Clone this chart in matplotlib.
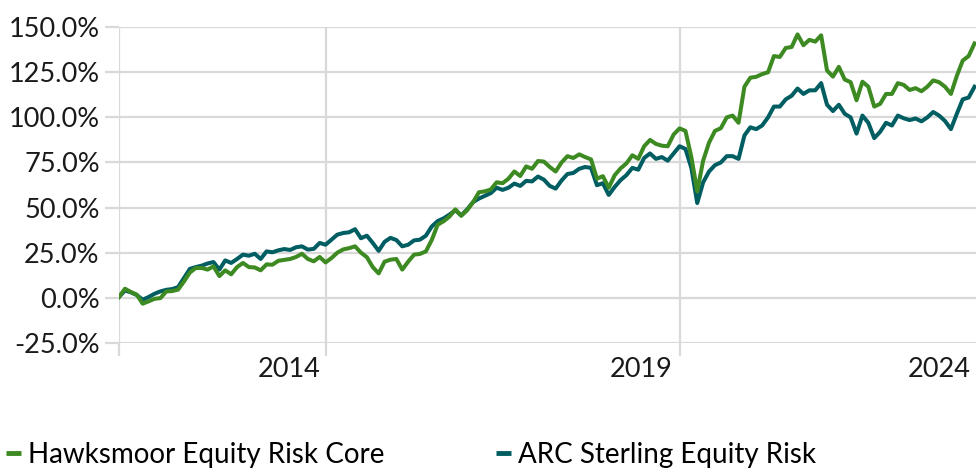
import matplotlib.pyplot as plt
from matplotlib.lines import Line2D
from matplotlib.ticker import FuncFormatter

plt.rcParams['font.family'] = ['Lato', 'DejaVu Sans']

# cumulative return (%), one value per month
hawksmoor = [
    0.5, 5, 3.2, 1.7, -3.3, -2, -0.6, -0.2, 3.5, 3.7,
    4.5, 9, 14, 16.5, 16.5, 15.6, 17.4, 12, 15.2, 13,
    17, 19.3, 17, 16.8, 15.2, 18.5, 18.3, 20.5, 21, 21.5,
    22.6, 24.4, 21.5, 20.2, 22.6, 19.6, 22, 25, 26.8, 27.5,
    28.5, 25, 22.5, 17, 13.5, 20, 21.1, 21.5, 15.6, 20,
    23.9, 24.3, 25.7, 32, 40.5, 42.4, 45, 49, 45.5, 48.5,
    53, 58.5, 59, 60, 64, 63.5, 66, 70, 67.5, 72.8,
    71.5, 75.8, 75.5, 72.5, 70, 75, 78.5, 77.5, 79.5, 78,
    76.7, 66, 67.4, 61, 67.9, 71.7, 74.5, 79, 77, 84,
    87.5, 85.3, 84.3, 84, 90.5, 93.9, 92.5, 78, 59, 76,
    86, 92.5, 94, 100, 101, 97, 117, 122, 122.5, 124,
    125, 134, 133.5, 138.5, 139, 146, 140, 143, 142, 145.5,
    126, 122.6, 128, 121, 119.5, 109.5, 119.8, 117, 106, 107.5,
    113, 113, 119, 118, 115.2, 116.2, 114.5, 117, 120.5, 119.5,
    117, 113, 123, 131.5, 134, 141,
]
arc = [
    0.5, 4, 3, 1.5, -1.1, 0.4, 2.2, 3.5, 4.4, 4.8,
    5.9, 11, 16, 17, 17.8, 19, 19.8, 15.6, 20.7, 19.3,
    21.5, 23.9, 23.3, 24.4, 21.5, 25.7, 25.2, 26.3, 27, 26.5,
    28, 28.5, 26.7, 27.1, 30.4, 29.4, 32.2, 35, 35.9, 36.3,
    38, 33, 34.4, 30.4, 26, 31, 33.2, 32, 28.5, 29.4,
    31.8, 32.2, 34.4, 39.5, 42.5, 44, 46.1, 48.5, 45.6, 49,
    53, 55, 56.5, 58, 61, 59.8, 61, 63.3, 62, 64.8,
    64.5, 67.2, 65.5, 62, 60.5, 65, 68.6, 69.2, 71.5, 72.5,
    72, 62.4, 63.5, 57, 61.4, 65.2, 68, 72, 71, 77.5,
    80, 77, 78, 76, 80, 84, 82.5, 72, 52.5, 64,
    70, 73.5, 75, 78.5, 78.5, 77, 90, 94.5, 93.5, 95.5,
    100, 106, 106, 110, 112, 116, 113, 115, 115, 119,
    107, 103.5, 107, 102, 100, 91, 101, 97, 88.5, 92,
    97, 95.5, 101, 99.5, 98.5, 99.4, 97.8, 100, 103, 101,
    98, 93.5, 102, 110, 111, 117,
]
series_names = ['Hawksmoor Equity Risk Core', 'ARC Sterling Equity Risk']
year_labels = ['2014', '2019', '2024']
year_label_pos = [28.8, 88.5, 139]
grid_months = [0, 35, 95]

green = '#3c8a21'
teal = '#005e63'
grid = '#d9d9d9'

months = list(range(len(hawksmoor)))

fig = plt.figure(figsize=(9.76, 4.69), dpi=100)
ax = fig.add_axes([0.122, 0.269, 0.878, 0.673])

ax.plot(months, hawksmoor, color=green, lw=2.9, solid_joinstyle='round', zorder=3)
ax.plot(months, arc, color=teal, lw=2.9, solid_joinstyle='round', zorder=2)

ax.set_xlim(0, 145.25)
ax.set_ylim(-25, 150)
ax.set_yticks(range(-25, 151, 25))
ax.yaxis.set_major_formatter(FuncFormatter(lambda v, p: '{:.1f}%'.format(v)))

ax.set_xticks(year_label_pos)
ax.set_xticklabels(year_labels)
ax.set_xticks(grid_months, minor=True)

ax.grid(axis='y', color=grid, lw=1.6)
ax.grid(axis='x', which='minor', color=grid, lw=1.6)
for s in ax.spines.values():
    s.set_visible(False)
ax.set_axisbelow(True)

ax.tick_params(axis='y', length=10, width=1.6, color=grid, pad=4, labelsize=19.5, labelcolor='#1a1a1a')
ax.tick_params(axis='x', which='major', length=0, pad=10, labelsize=19.5, labelcolor='#1a1a1a')
ax.tick_params(axis='x', which='minor', length=9, width=1.6, color=grid)

handles = [Line2D([], [], color=green, lw=3.5, solid_capstyle='butt'),
           Line2D([], [], color=teal, lw=3.5, solid_capstyle='butt')]
fig.legend(handles, series_names, loc='lower left', bbox_to_anchor=(0.006, 0.003),
           ncol=2, frameon=False, fontsize=20, handlelength=0.55, handletextpad=0.25,
           columnspacing=4.0, borderpad=0, borderaxespad=0)

fig.savefig('out.png', dpi=100)
